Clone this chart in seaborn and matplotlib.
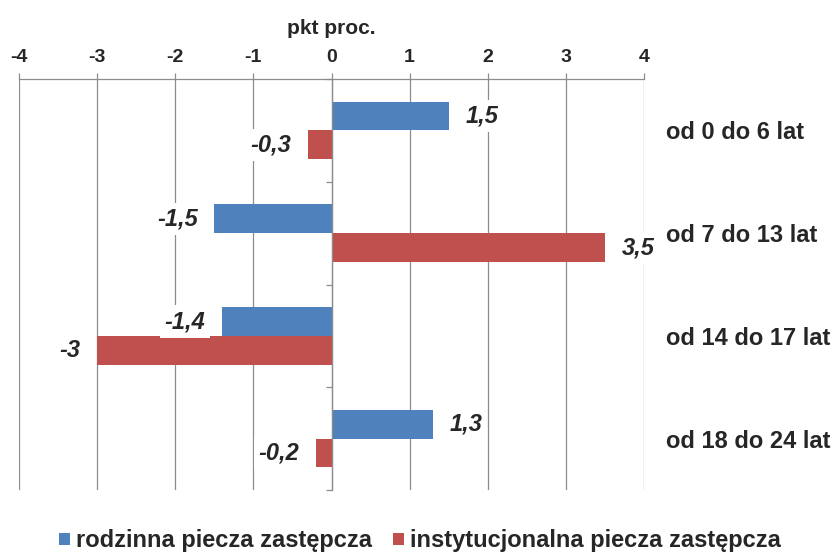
import matplotlib
matplotlib.use("Agg")
import matplotlib.pyplot as plt
import seaborn as sns
import pandas as pd

# Zmiana udziału dzieci w pieczy zastępczej wg grup wieku (punkty procentowe)
age_groups = ["od 0 do 6 lat", "od 7 do 13 lat", "od 14 do 17 lat", "od 18 do 24 lat"]
family_care = [1.5, -1.5, -1.4, 1.3]
institutional_care = [-0.3, 3.5, -3.0, -0.2]
series_names = ["rodzinna piecza zastępcza", "instytucjonalna piecza zastępcza"]
x_ticks = [-4, -3, -2, -1, 0, 1, 2, 3, 4]
axis_title = "pkt proc."

df = pd.DataFrame({
    "grupa": age_groups * 2,
    "seria": [series_names[0]] * len(age_groups) + [series_names[1]] * len(age_groups),
    "zmiana": family_care + institutional_care,
})

sns.set_theme(style="white")
plt.rcParams["font.family"] = ["Liberation Sans", "DejaVu Sans"]
plt.rcParams["axes.unicode_minus"] = False

GRID = "#8c8c8c"
palette = ["#4F81BD", "#C0504D"]

fig = plt.figure(figsize=(8.35, 5.54), dpi=100)
ax = fig.add_axes([0.0228, 0.1155, 0.7485, 0.7418])

sns.barplot(data=df, x="zmiana", y="grupa", hue="seria", order=age_groups,
            hue_order=series_names, palette=palette, width=0.56, orient="h",
            saturation=1, errorbar=None, linewidth=0, ax=ax)

ax.set_xlim(x_ticks[0], x_ticks[-1])
ax.set_ylim(len(age_groups) - 0.5, -0.5)

# value axis along the top
ax.xaxis.tick_top()
ax.xaxis.set_label_position("top")
ax.set_xticks(x_ticks)
ax.set_xticklabels([str(t) for t in x_ticks], fontsize=14, fontweight="bold")
ax.tick_params(axis="x", direction="out", length=4.5, width=0.9, color=GRID, pad=5)
ax.set_xlabel(axis_title, fontsize=15, fontweight="bold", labelpad=11)
ax.set_ylabel("")
ax.xaxis.grid(True, color=GRID, linewidth=0.9)
ax.set_axisbelow(True)

# category axis drawn at zero with boundary ticks
for side in ("right", "bottom"):
    ax.spines[side].set_visible(False)
ax.spines["top"].set_color(GRID)
ax.spines["top"].set_linewidth(0.9)
ax.spines["left"].set_position(("data", 0))
ax.spines["left"].set_color(GRID)
ax.spines["left"].set_linewidth(0.9)
ax.set_yticks([i - 0.5 for i in range(len(age_groups) + 1)])
ax.set_yticklabels([])
ax.tick_params(axis="y", left=True, direction="out", length=4, width=0.9, color=GRID)

# category names to the right of the plot
sec = ax.secondary_yaxis("right")
sec.set_yticks(range(len(age_groups)))
sec.set_yticklabels(age_groups, fontsize=17, fontweight="bold")
sec.tick_params(length=0, pad=16)
sec.spines["right"].set_visible(False)

# value labels
for cont in ax.containers:
    labels = [f"{v:g}".replace(".", ",") for v in cont.datavalues]
    ax.bar_label(cont, labels=labels, padding=12, fontsize=17, fontweight="bold",
                 fontstyle="italic",
                 bbox=dict(facecolor="white", edgecolor="none", boxstyle="square,pad=0.2"))

handles, labels = ax.get_legend_handles_labels()
ax.get_legend().remove()
fig.legend(handles, labels, loc="center", bbox_to_anchor=(0.503, 0.0235), ncol=2,
           frameon=False, handlelength=0.45, handleheight=0.45, handletextpad=0.25,
           columnspacing=0.9, prop=dict(size=17, weight="bold"))

fig.savefig("out.png", dpi=100)
